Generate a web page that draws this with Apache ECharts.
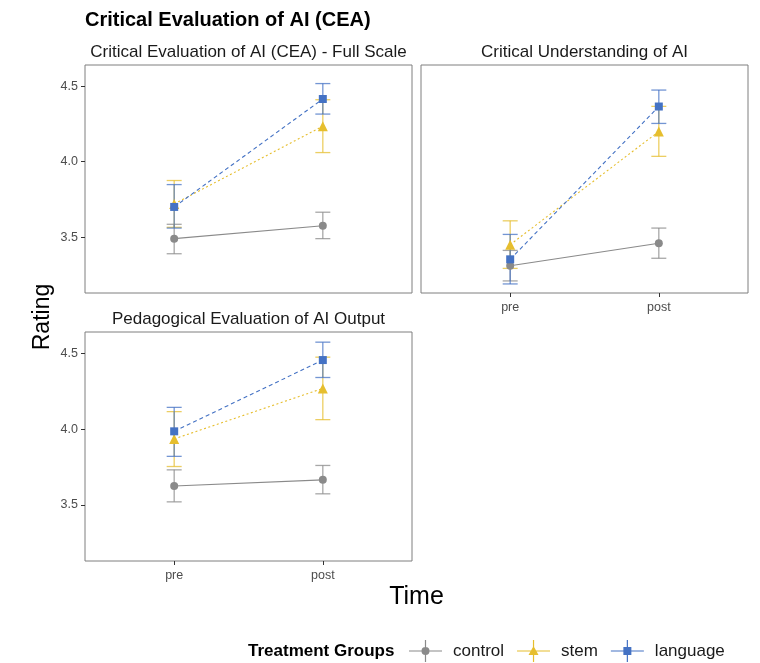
<!DOCTYPE html>
<html><head><meta charset="utf-8">
<script src="https://cdn.jsdelivr.net/npm/echarts@6/dist/echarts.min.js"></script>
<style>html,body{margin:0;padding:0;background:#fff}#c{width:760px;height:663px}</style>
</head><body><div id="c"></div>
<script>
// ---- data ----
const categories = ['pre', 'post'];
const groups = ['control', 'stem', 'language'];
const panelTitles = ['Critical Evaluation of AI (CEA) - Full Scale', 'Critical Understanding of AI', 'Pedagogical Evaluation of AI Output'];
const yTicks = [3.5, 4.0, 4.5];

// Panel 1: Full Scale
const fullControlMean = [3.49, 3.575];
const fullControlLow  = [3.39, 3.49];
const fullControlHigh = [3.585, 3.665];
const fullStemMean = [3.72, 4.235];
const fullStemLow  = [3.565, 4.06];
const fullStemHigh = [3.875, 4.41];
const fullLanguageMean = [3.70, 4.415];
const fullLanguageLow  = [3.56, 4.315];
const fullLanguageHigh = [3.848, 4.517];

// Panel 2: Critical Understanding
const underControlMean = [3.31, 3.46];
const underControlLow  = [3.21, 3.36];
const underControlHigh = [3.412, 3.56];
const underStemMean = [3.45, 4.20];
const underStemLow  = [3.293, 4.035];
const underStemHigh = [3.608, 4.366];
const underLanguageMean = [3.353, 4.365];
const underLanguageLow  = [3.19, 4.253];
const underLanguageHigh = [3.518, 4.474];

// Panel 3: Pedagogical Evaluation
const pedControlMean = [3.625, 3.665];
const pedControlLow  = [3.52, 3.573];
const pedControlHigh = [3.731, 3.76];
const pedStemMean = [3.935, 4.268];
const pedStemLow  = [3.753, 4.062];
const pedStemHigh = [4.115, 4.474];
const pedLanguageMean = [3.985, 4.455];
const pedLanguageLow  = [3.82, 4.34];
const pedLanguageHigh = [4.143, 4.573];

// ---- build ----
const panelData = [
  {control: [fullControlMean, fullControlLow, fullControlHigh], stem: [fullStemMean, fullStemLow, fullStemHigh], language: [fullLanguageMean, fullLanguageLow, fullLanguageHigh]},
  {control: [underControlMean, underControlLow, underControlHigh], stem: [underStemMean, underStemLow, underStemHigh], language: [underLanguageMean, underLanguageLow, underLanguageHigh]},
  {control: [pedControlMean, pedControlLow, pedControlHigh], stem: [pedStemMean, pedStemLow, pedStemHigh], language: [pedLanguageMean, pedLanguageLow, pedLanguageHigh]}
];

const colors = {control: '#8a8a8a', stem: '#E6BE2E', language: '#4472C4'};
const symbols = {control: 'circle', stem: 'triangle', language: 'rect'};
const symSizes = {control: 8, stem: 10, language: 8};
const dashes = {control: 'solid', stem: [2, 2.5], language: [4, 3]};

const grids = [
  {left: 85, top: 65, width: 327, height: 228},
  {left: 421, top: 65, width: 327, height: 228},
  {left: 85, top: 332, width: 327, height: 229}
];
const showX = [false, true, true];
const showY = [true, false, true];

const FF = 'Liberation Sans, Arial, sans-serif';
const axisFont = {color: '#4d4d4d', fontSize: 12.5, fontFamily: FF};

const option = {
  animation: false,
  backgroundColor: '#fff',
  grid: grids.map(g => Object.assign({show: true, borderColor: '#7f7f7f', borderWidth: 1, backgroundColor: '#fff'}, g)),
  xAxis: grids.map((g, i) => ({
    type: 'value', gridIndex: i, min: -0.6, max: 1.6,
    axisLine: {show: false, onZero: false},
    splitLine: {show: false},
    axisTick: {show: showX[i], length: 4, lineStyle: {color: '#333'}, customValues: [0, 1]},
    axisLabel: Object.assign({show: showX[i], margin: 8, customValues: [0, 1], formatter: v => categories[Math.round(v)]}, axisFont)
  })),
  yAxis: grids.map((g, i) => ({
    type: 'value', gridIndex: i, min: 3.13, max: 4.64,
    axisLine: {show: false, onZero: false},
    splitLine: {show: false},
    axisTick: {show: showY[i], length: 4, lineStyle: {color: '#333'}, customValues: yTicks},
    axisLabel: Object.assign({show: showY[i], margin: 7, customValues: yTicks, formatter: v => v.toFixed(1)}, axisFont)
  })),
  legend: {
    left: 404, top: 635,
    itemWidth: 33, itemHeight: 22, itemGap: 13,
    textStyle: {fontSize: 17, color: '#1a1a1a', fontFamily: FF, padding: [0, 0, 0, 6]},
    data: [
      {name: 'control', icon: 'path://M0,10.4L33,10.4L33,11.6L0,11.6Z M15.9,0L17.1,0L17.1,22L15.9,22Z M16.5,7A4,4 0 1 1 16.5,15A4,4 0 1 1 16.5,7Z', itemStyle: {color: colors.control}},
      {name: 'stem', icon: 'path://M0,10.4L33,10.4L33,11.6L0,11.6Z M15.9,0L17.1,0L17.1,22L15.9,22Z M16.5,6L21.5,15L11.5,15Z', itemStyle: {color: colors.stem}},
      {name: 'language', icon: 'path://M0,10.4L33,10.4L33,11.6L0,11.6Z M15.9,0L17.1,0L17.1,22L15.9,22Z M12.5,7L20.5,7L20.5,15L12.5,15Z', itemStyle: {color: colors.language}}
    ]
  },
  graphic: [
    {type: 'text', x: 85, y: 20, style: {text: 'Critical Evaluation of AI (CEA)', font: 'bold 20px ' + FF, fill: '#000', verticalAlign: 'middle'}},
    {type: 'text', x: 248.5, y: 52, style: {text: panelTitles[0], font: '17px ' + FF, fill: '#1a1a1a', align: 'center', verticalAlign: 'middle'}},
    {type: 'text', x: 584.5, y: 52, style: {text: panelTitles[1], font: '17px ' + FF, fill: '#1a1a1a', align: 'center', verticalAlign: 'middle'}},
    {type: 'text', x: 248.5, y: 319, style: {text: panelTitles[2], font: '17px ' + FF, fill: '#1a1a1a', align: 'center', verticalAlign: 'middle'}},
    {type: 'text', x: 43, y: 317, rotation: Math.PI / 2, style: {text: 'Rating', font: '23px ' + FF, fill: '#000', align: 'center', verticalAlign: 'middle'}},
    {type: 'text', x: 416.5, y: 597, style: {text: 'Time', font: '25px ' + FF, fill: '#000', align: 'center', verticalAlign: 'middle'}},
    {type: 'text', x: 248, y: 651, style: {text: 'Treatment Groups', font: 'bold 17px ' + FF, fill: '#000', verticalAlign: 'middle'}}
  ],
  series: []
};

panelData.forEach((pd, i) => {
  groups.forEach((gname, k) => {
    const [mean, lo, hi] = pd[gname];
    const col = colors[gname];
    option.series.push({
      type: 'custom', name: gname + ' error', xAxisIndex: i, yAxisIndex: i, z: 2 + k * 0.1, silent: true,
      dimensions: ['x', 'lo', 'hi'],
      encode: {x: 0, y: [1, 2]},
      data: categories.map((c, j) => [j, lo[j], hi[j]]),
      renderItem: (params, api) => {
        const x = api.value(0);
        const pLo = api.coord([x, api.value(1)]);
        const pHi = api.coord([x, api.value(2)]);
        const w = 7.5;
        const style = {stroke: col, lineWidth: 1.3, opacity: 0.75};
        return {type: 'group', children: [
          {type: 'line', shape: {x1: pLo[0], y1: pLo[1], x2: pHi[0], y2: pHi[1]}, style},
          {type: 'line', shape: {x1: pLo[0] - w, y1: pLo[1], x2: pLo[0] + w, y2: pLo[1]}, style},
          {type: 'line', shape: {x1: pHi[0] - w, y1: pHi[1], x2: pHi[0] + w, y2: pHi[1]}, style}
        ]};
      }
    });
  });
  groups.forEach((gname, k) => {
    const [mean] = pd[gname];
    option.series.push({
      type: 'line', name: gname, xAxisIndex: i, yAxisIndex: i, z: 3 + k * 0.1,
      data: categories.map((c, j) => [j, mean[j]]),
      symbol: symbols[gname], symbolSize: symSizes[gname], showSymbol: true,
      itemStyle: {color: colors[gname]},
      lineStyle: {color: colors[gname], width: 1.1, type: dashes[gname]},
      silent: true
    });
  });
});

const chart = echarts.init(document.getElementById('c'), null, {renderer: 'canvas'});
chart.setOption(option);
</script>
</body></html>
